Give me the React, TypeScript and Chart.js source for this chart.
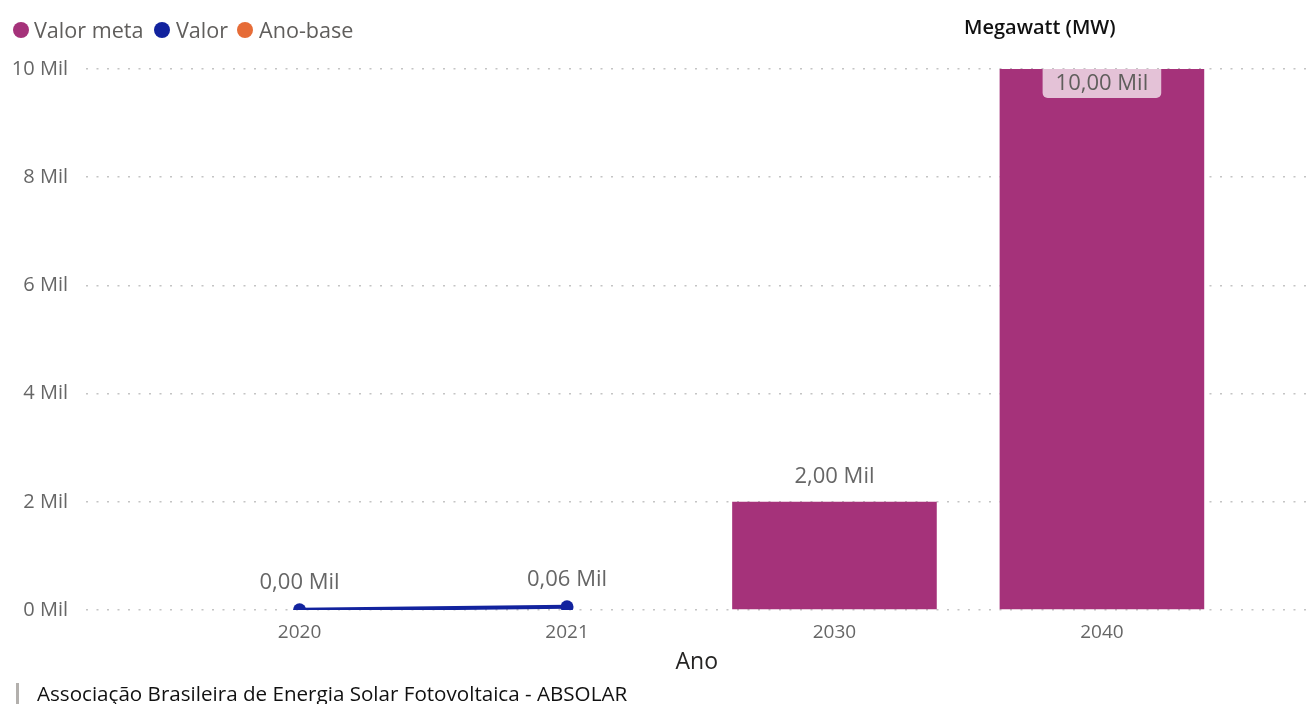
import React, { useEffect, useRef } from "react";
import { Chart, registerables } from "chart.js";

Chart.register(...registerables);

const years = ["2020", "2021", "2030", "2040"];
const valorMeta: (number | null)[] = [null, null, 2000, 10000];
const valor: (number | null)[] = [4, 60, null, null];
const anoBase: (number | null)[] = [null, null, null, null];
const yTickValues = [0, 2000, 4000, 6000, 8000, 10000];

const legendItems = [
  { label: "Valor meta", color: "#A5327A" },
  { label: "Valor", color: "#12239E" },
  { label: "Ano-base", color: "#E66C37" },
];

const FONT = '"Open Sans", "Noto Sans", sans-serif';

const fmtLabel = (v: number) => (v / 1000).toFixed(2).replace(".", ",") + " Mil";

const toPoints = (arr: (number | null)[]) =>
  arr
    .map((v, i) => (v === null ? null : { x: i, y: v }))
    .filter((p) => p !== null) as { x: number; y: number }[];

const labelPlugin = {
  id: "dataLabels",
  afterDatasetsDraw(chart: any) {
    const ctx = chart.ctx;
    const area = chart.chartArea;
    ctx.save();
    ctx.font = `22px ${FONT}`;
    ctx.textAlign = "center";
    ctx.textBaseline = "middle";
    chart.data.datasets.forEach((ds: any, di: number) => {
      const meta = chart.getDatasetMeta(di);
      if (meta.hidden) return;
      meta.data.forEach((el: any, i: number) => {
        const v = ds.data[i].y;
        const text = fmtLabel(v);
        if (meta.type === "bar") {
          if (el.y - 40 < area.top) {
            const w = ctx.measureText(text).width;
            const bx = el.x - w / 2 - 13;
            const by = el.y;
            const bw = w + 26;
            const bh = 29;
            ctx.fillStyle = "rgba(255,255,255,0.7)";
            ctx.beginPath();
            (ctx as any).roundRect(bx, by, bw, bh, [0, 0, 5, 5]);
            ctx.fill();
            ctx.fillStyle = "#5F5E5C";
            ctx.fillText(text, el.x, by + 15);
          } else {
            ctx.fillStyle = "#666666";
            ctx.fillText(text, el.x, el.y - 25);
          }
        } else {
          ctx.fillStyle = "#666666";
          ctx.fillText(text, el.x, el.y - 27);
        }
      });
    });
    ctx.restore();
  },
};

export default function App() {
  const canvasRef = useRef<HTMLCanvasElement | null>(null);

  useEffect(() => {
    if (!canvasRef.current) return;
    const chart = new Chart(canvasRef.current, {
      type: "bar",
      data: {
        datasets: [
          {
            type: "bar",
            label: "Valor meta",
            data: toPoints(valorMeta),
            backgroundColor: "#A5327A",
            barPercentage: 0.765,
            categoryPercentage: 1,
            order: 2,
          } as any,
          {
            type: "line",
            label: "Valor",
            data: toPoints(valor),
            borderColor: "#12239E",
            backgroundColor: "#12239E",
            borderWidth: 4,
            pointRadius: 6.5,
            pointBorderWidth: 0,
            pointBackgroundColor: "#12239E",
            order: 1,
          } as any,
          {
            type: "line",
            label: "Ano-base",
            data: toPoints(anoBase),
            borderColor: "#E66C37",
            backgroundColor: "#E66C37",
            order: 0,
          } as any,
        ],
      },
      options: {
        animation: false,
        responsive: true,
        maintainAspectRatio: false,
        layout: { padding: { left: 0, right: 4, top: 69, bottom: 30 } },
        plugins: {
          legend: { display: false },
          tooltip: { enabled: false },
        },
        scales: {
          x: {
            type: "linear",
            offset: false,
            min: (86 - 300) / 268,
            max: (1310 - 300) / 268,
            grid: { display: false, drawTicks: false, offset: false },
            border: { display: false },
            afterBuildTicks: (scale: any) => {
              scale.ticks = years.map((_, i) => ({ value: i }));
            },
            afterFit: (scale: any) => {
              scale.height = 64;
            },
            ticks: {
              padding: 11,
              color: "#666666",
              font: { family: FONT, size: 19 },
              maxRotation: 0,
              autoSkip: false,
              callback: (v: any) => years[Math.round(Number(v))] ?? "",
            },
            title: {
              display: true,
              text: "Ano",
              color: "#252423",
              font: { family: FONT, size: 23, lineHeight: 1 },
              padding: { top: 0, bottom: 0 },
            },
          },
          y: {
            min: 0,
            max: 10000,
            afterBuildTicks: (scale: any) => {
              scale.ticks = yTickValues.map((v) => ({ value: v }));
            },
            afterFit: (scale: any) => {
              scale.width = 86;
            },
            grid: {
              color: "#c4c4c4",
              lineWidth: 1.5,
              drawTicks: false,
            },
            border: { display: false, dash: [2, 8.5] },
            ticks: {
              padding: 18,
              color: "#666666",
              font: { family: FONT, size: 20 },
              callback: (v: any) => Number(v) / 1000 + " Mil",
            },
          },
        },
      },
      plugins: [labelPlugin],
    } as any);
    return () => chart.destroy();
  }, []);

  const legendPos = [
    { dot: 13, text: 34 },
    { dot: 154, text: 176 },
    { dot: 237, text: 259 },
  ];

  return (
    <div
      style={{
        position: "absolute",
        left: 0,
        top: 0,
        width: 1314,
        height: 704,
        background: "#ffffff",
        overflow: "hidden",
        fontFamily: FONT,
      }}
    >
      <div style={{ position: "absolute", left: 0, top: 0, width: 1314, height: 704 }}>
        <canvas ref={canvasRef} />
      </div>
      {legendItems.map((it, i) => (
        <React.Fragment key={it.label}>
          <div
            style={{
              position: "absolute",
              left: legendPos[i].dot,
              top: 22,
              width: 16,
              height: 16,
              borderRadius: "50%",
              background: it.color,
            }}
          />
          <div
            style={{
              position: "absolute",
              left: legendPos[i].text,
              top: 15,
              fontSize: 21.6,
              lineHeight: "30px",
              color: "#605E5C",
              whiteSpace: "nowrap",
            }}
          >
            {it.label}
          </div>
        </React.Fragment>
      ))}
      <div
        style={{
          position: "absolute",
          left: 964,
          top: 12,
          fontSize: 20,
          fontWeight: 600,
          lineHeight: "30px",
          color: "#111111",
          whiteSpace: "nowrap",
        }}
      >
        Megawatt (MW)
      </div>
      <div
        style={{
          position: "absolute",
          left: 16,
          top: 683,
          width: 3,
          height: 21,
          background: "#b3b0ad",
        }}
      />
      <div
        style={{
          position: "absolute",
          left: 37,
          top: 678,
          fontSize: 20.6,
          lineHeight: "30px",
          color: "#111111",
          whiteSpace: "nowrap",
        }}
      >
        Associação Brasileira de Energia Solar Fotovoltaica - ABSOLAR
      </div>
    </div>
  );
}
